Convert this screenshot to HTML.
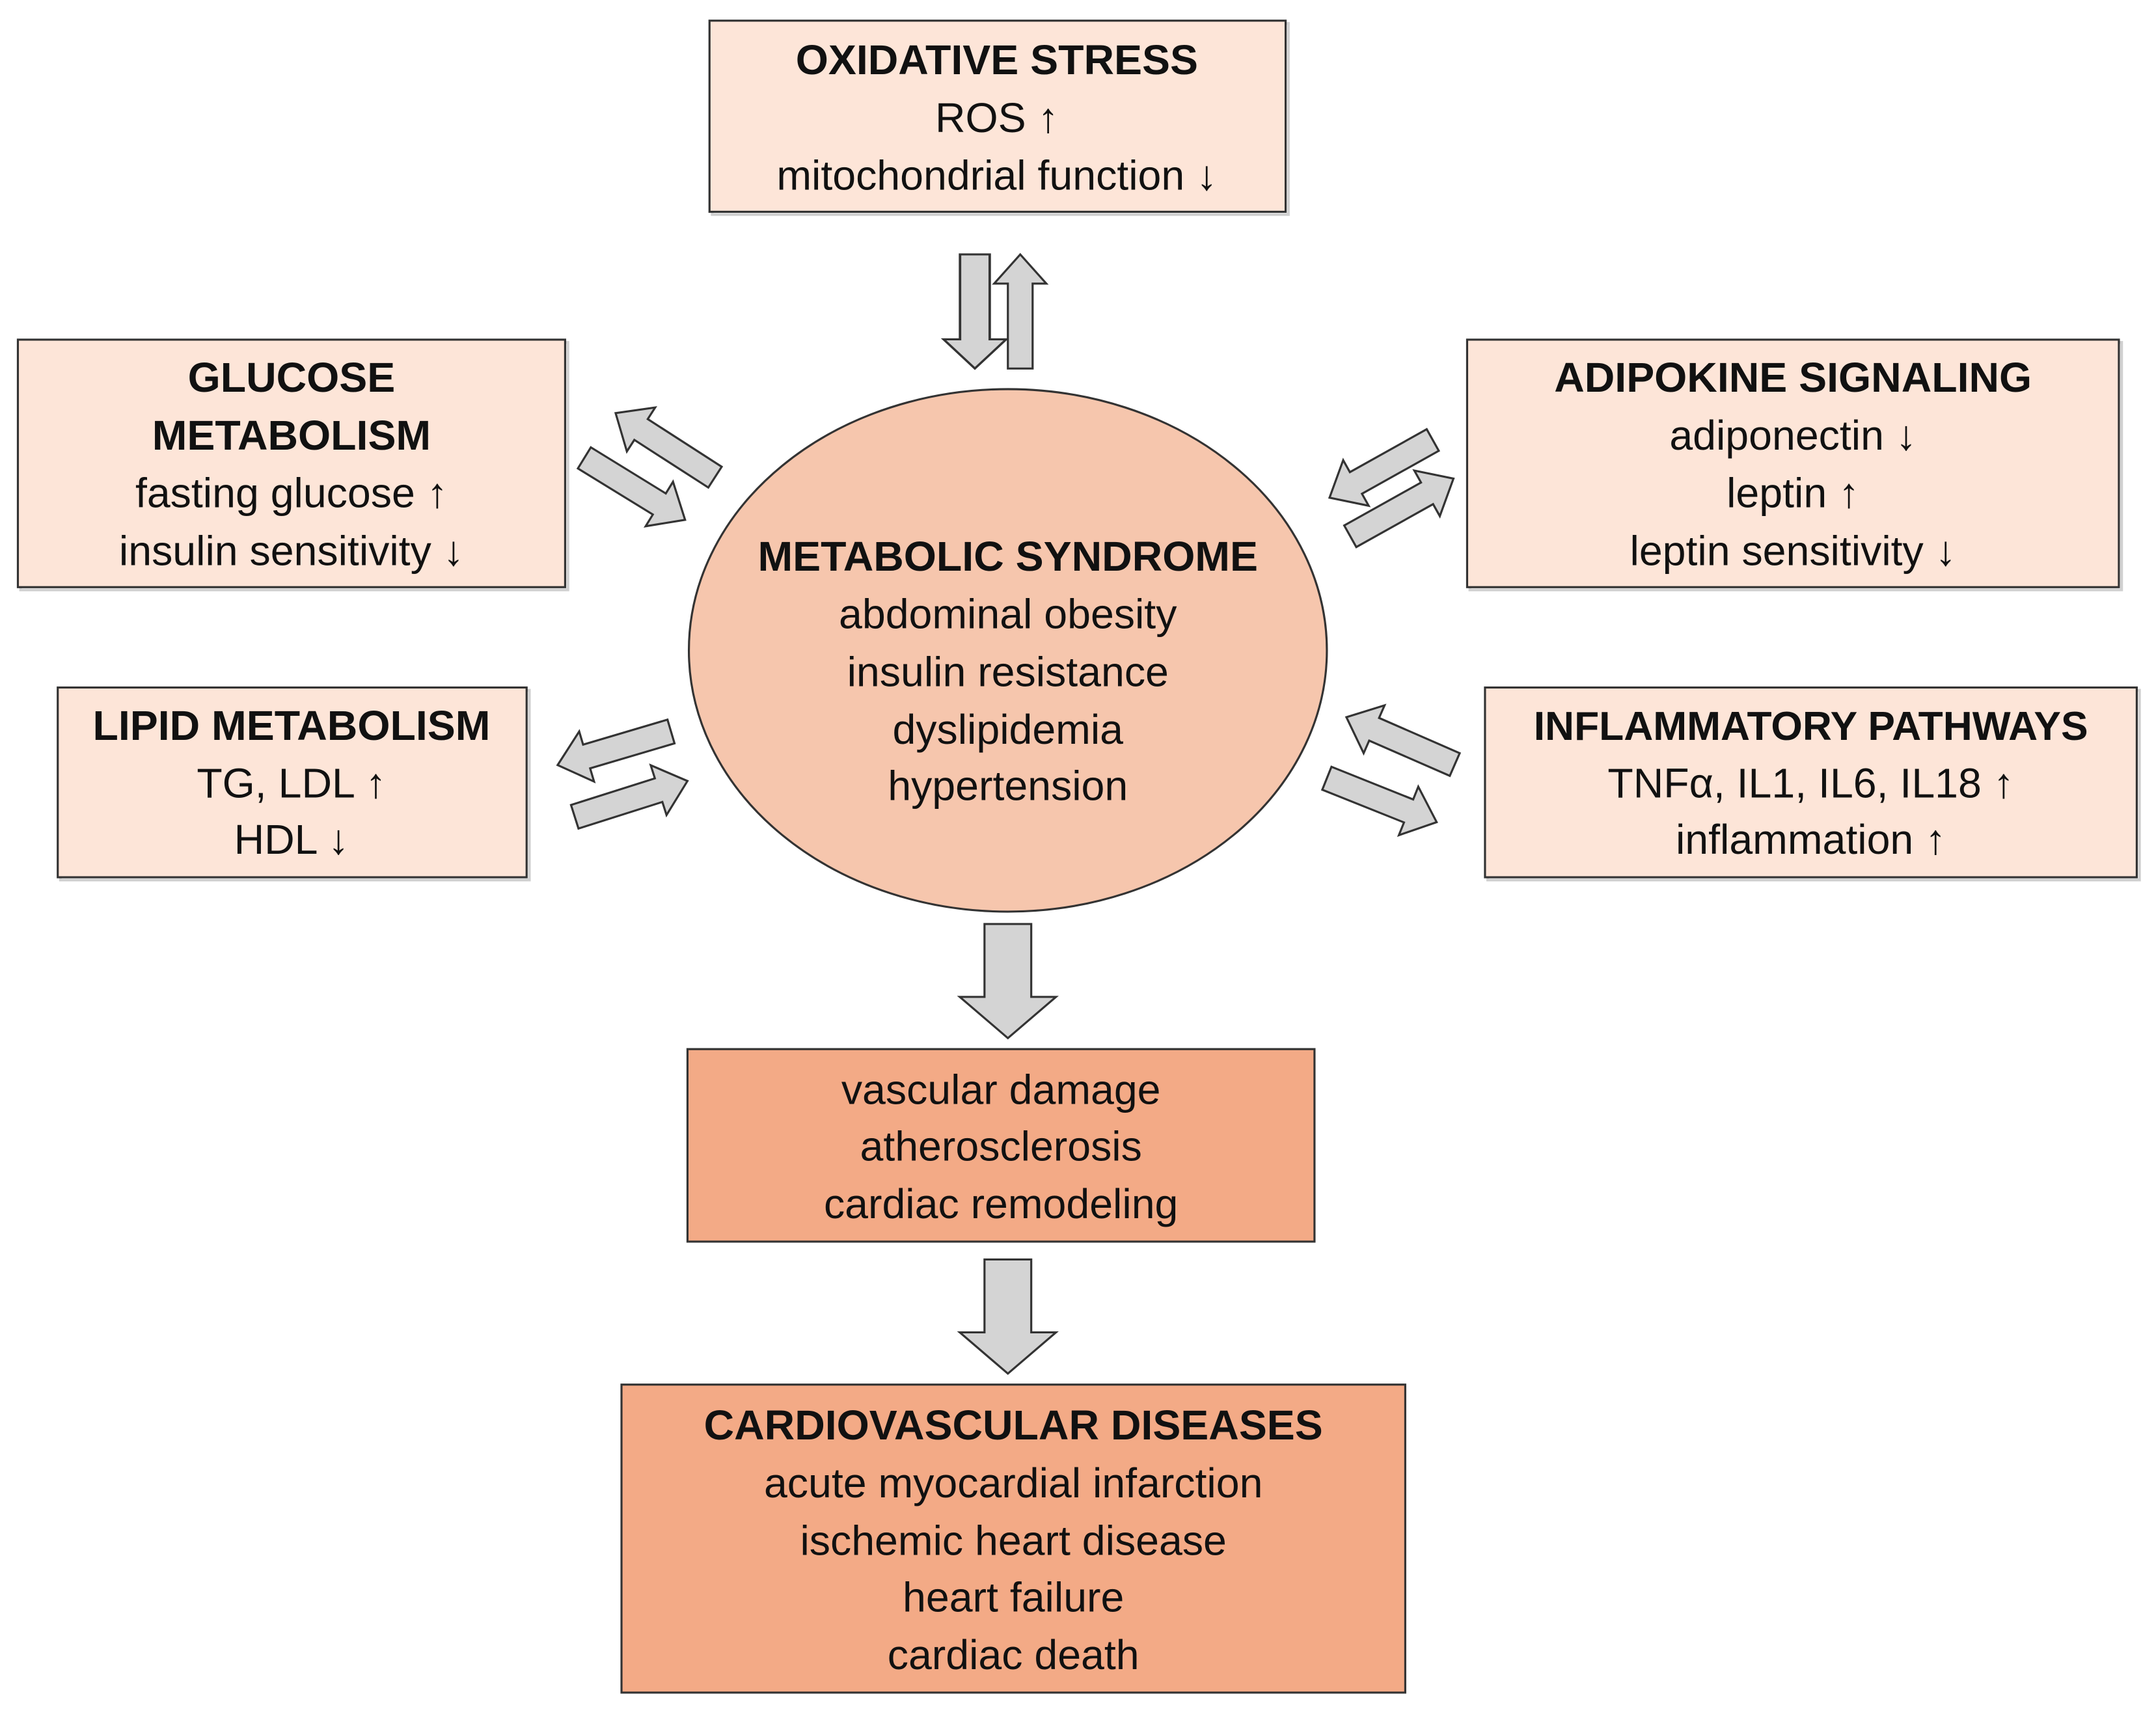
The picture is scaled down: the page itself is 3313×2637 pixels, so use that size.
<!DOCTYPE html>
<html><head><meta charset="utf-8"><style>html,body{margin:0;padding:0;background:#fff}svg{display:block}</style></head>
<body>
<svg width="3313" height="2637" viewBox="0 0 1568 1248" xmlns="http://www.w3.org/2000/svg" font-family="Liberation Sans, sans-serif" font-size="30.5" text-anchor="middle" fill="#111">
<defs>
<path id="a" d="M0,-9 L64,-9 L64,-19 L86,0 L64,19 L64,9 L0,9 Z"/>
<path id="b" d="M0,-17 L53,-17 L53,-35 L83,0 L53,35 L53,17 L0,17 Z"/>
</defs>
<g stroke="#d0d0d0" stroke-width="2" fill="none">
<rect x="518" y="17" width="419" height="139"/>
<rect x="15" y="249" width="398" height="180"/>
<rect x="1069" y="249" width="474" height="180"/>
<rect x="44" y="502" width="341" height="138"/>
<rect x="1082" y="502" width="474" height="138"/>
</g>
<g stroke="#333" stroke-width="1.5">
<rect x="516" y="15" width="419" height="139" fill="#fde5d8"/>
<rect x="13" y="247" width="398" height="180" fill="#fde5d8"/>
<rect x="1067" y="247" width="474" height="180" fill="#fde5d8"/>
<rect x="42" y="500" width="341" height="138" fill="#fde5d8"/>
<rect x="1080" y="500" width="474" height="138" fill="#fde5d8"/>
<ellipse cx="733" cy="473" rx="232" ry="190" fill="#f6c6ad"/>
<rect x="500" y="763" width="456" height="140" fill="#f3aa86"/>
<rect x="452" y="1007" width="570" height="224" fill="#f3aa86"/>
</g>
<g fill="#d4d4d4" stroke="#333" stroke-width="1.5">
<use href="#a" transform="translate(709,185) rotate(90) scale(0.965,1.2)"/>
<use href="#a" transform="translate(742,268) rotate(-90) scale(0.965,1.0)"/>
<use href="#a" transform="translate(520,347) rotate(212.8)"/>
<use href="#a" transform="translate(425,333) rotate(31.6)"/>
<use href="#a" transform="translate(1042,320) rotate(150.8)"/>
<use href="#a" transform="translate(982,390) rotate(-29.2)"/>
<use href="#a" transform="translate(488,532) rotate(163.5)"/>
<use href="#a" transform="translate(418,594) rotate(-17.6)"/>
<use href="#a" transform="translate(1058,556) rotate(203.6)"/>
<use href="#a" transform="translate(965,566) rotate(21.8)"/>
<use href="#b" transform="translate(733,672) rotate(90)"/>
<use href="#b" transform="translate(733,916) rotate(90)"/>
</g>
<g>
<text x="725" y="54" font-weight="bold">OXIDATIVE STRESS</text>
<text x="725" y="96">ROS ↑</text>
<text x="725" y="138">mitochondrial function ↓</text>

<text x="212" y="285" font-weight="bold">GLUCOSE</text>
<text x="212" y="327" font-weight="bold">METABOLISM</text>
<text x="212" y="369">fasting glucose ↑</text>
<text x="212" y="411">insulin sensitivity ↓</text>

<text x="1304" y="285" font-weight="bold">ADIPOKINE SIGNALING</text>
<text x="1304" y="327">adiponectin ↓</text>
<text x="1304" y="369">leptin ↑</text>
<text x="1304" y="411">leptin sensitivity ↓</text>

<text x="212" y="538" font-weight="bold">LIPID METABOLISM</text>
<text x="212" y="580">TG, LDL ↑</text>
<text x="212" y="621">HDL ↓</text>

<text x="1317" y="538" font-weight="bold" font-size="29.5">INFLAMMATORY PATHWAYS</text>
<text x="1317" y="580">TNFα, IL1, IL6, IL18 ↑</text>
<text x="1317" y="621">inflammation ↑</text>

<text x="733" y="415" font-weight="bold">METABOLIC SYNDROME</text>
<text x="733" y="457">abdominal obesity</text>
<text x="733" y="499">insulin resistance</text>
<text x="733" y="541">dyslipidemia</text>
<text x="733" y="582">hypertension</text>

<text x="728" y="803">vascular damage</text>
<text x="728" y="844">atherosclerosis</text>
<text x="728" y="886">cardiac remodeling</text>

<text x="737" y="1047" font-weight="bold">CARDIOVASCULAR DISEASES</text>
<text x="737" y="1089">acute myocardial infarction</text>
<text x="737" y="1131">ischemic heart disease</text>
<text x="737" y="1172">heart failure</text>
<text x="737" y="1214">cardiac death</text>
</g>
</svg>
</body></html>
